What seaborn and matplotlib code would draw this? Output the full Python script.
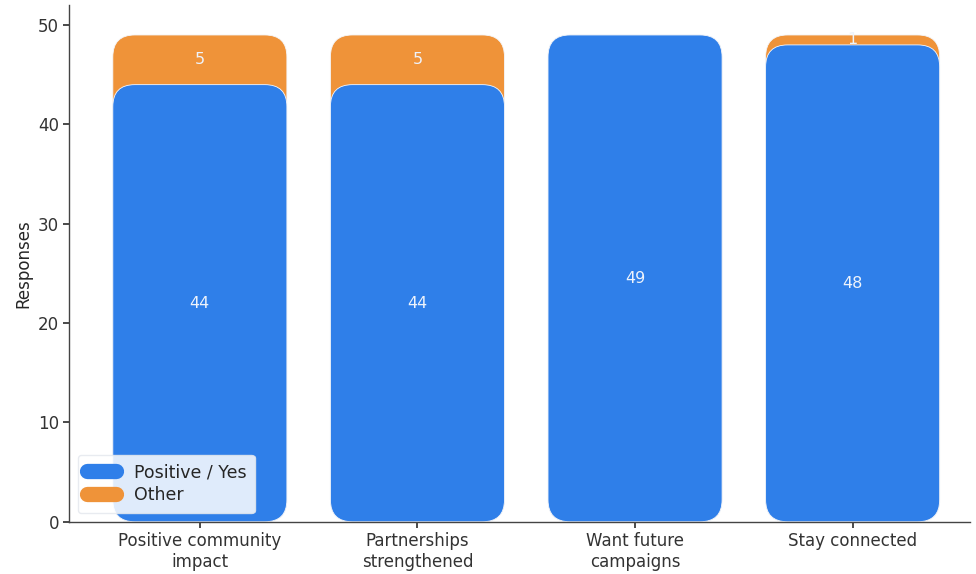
import matplotlib
matplotlib.use("Agg")
import matplotlib.pyplot as plt
from matplotlib.patches import FancyBboxPatch
from matplotlib.lines import Line2D
import seaborn as sns
import pandas as pd

categories = ["Positive community\nimpact", "Partnerships\nstrengthened",
              "Want future\ncampaigns", "Stay connected"]
positive = [44, 44, 49, 48]
other = [5, 5, 0, 1]
totals = [p + o for p, o in zip(positive, other)]

BLUE = "#2f7fe9"
ORANGE = "#ef9339"

sns.set_theme(style="white")
plt.rcParams["font.family"] = ["DejaVu Sans"]

df = pd.DataFrame({"category": categories, "positive": positive,
                   "other": other, "total": totals})

fig = plt.figure(figsize=(9.76, 5.74), dpi=100)
ax = fig.add_axes([0.071, 0.091, 0.923, 0.9])

sns.barplot(data=df, x="category", y="total", color=ORANGE, width=0.8,
            ax=ax, saturation=1)
sns.barplot(data=df, x="category", y="positive", color=BLUE, width=0.8,
            ax=ax, saturation=1)

ax.set_ylim(0, 52)
ax.set_xlim(-0.6, 3.54)
fig.canvas.draw()

# aspect between y and x data units, so corners stay circular
bbox = ax.get_window_extent()
x0, x1 = ax.get_xlim()
y0, y1 = ax.get_ylim()
px_per_x = bbox.width / (x1 - x0)
px_per_y = bbox.height / (y1 - y0)
aspect = px_per_x / px_per_y
radius = 22 / px_per_x

for patch in list(ax.patches):
    x, y = patch.get_x(), patch.get_y()
    w, h = patch.get_width(), patch.get_height()
    color = patch.get_facecolor()
    patch.set_visible(False)
    if h <= 0:
        continue
    r = min(radius, h / aspect / 2)
    box = FancyBboxPatch((x, y), w, h,
                         boxstyle=f"round,pad=0,rounding_size={r}",
                         mutation_aspect=aspect,
                         facecolor=color, edgecolor="#f4f7fc", linewidth=0.6,
                         zorder=2)
    ax.add_patch(box)

label_color = "#eef3fb"
for i, (p, o) in enumerate(zip(positive, other)):
    ax.text(i, p / 2, f"{p}", ha="center", va="center", color=label_color,
            fontsize=11.5, zorder=3)
    if o > 0:
        ax.text(i, p + o / 2, f"{o}", ha="center", va="center",
                color=label_color, fontsize=11.5, zorder=3)

ax.set_xlabel("")
ax.set_ylabel("Responses", fontsize=12)
ax.set_yticks([0, 10, 20, 30, 40, 50])
ax.tick_params(axis="both", labelsize=12, length=4, colors="#333333",
               left=True, bottom=True)
for side in ["top", "right"]:
    ax.spines[side].set_visible(False)
for side in ["left", "bottom"]:
    ax.spines[side].set_color("#444444")
    ax.spines[side].set_linewidth(1.0)

handles = [Line2D([0], [0], color=BLUE, lw=11, solid_capstyle="round"),
           Line2D([0], [0], color=ORANGE, lw=11, solid_capstyle="round")]
leg = ax.legend(handles, ["Positive / Yes", "Other"], loc="lower left",
                fontsize=12.5, frameon=True, fancybox=True, framealpha=0.85,
                handlelength=1.7, handletextpad=1.0, borderaxespad=0.5,
                borderpad=0.5, labelspacing=0.3)
leg.get_frame().set_edgecolor("#e4e8ee")

fig.savefig("out.png", dpi=100)
